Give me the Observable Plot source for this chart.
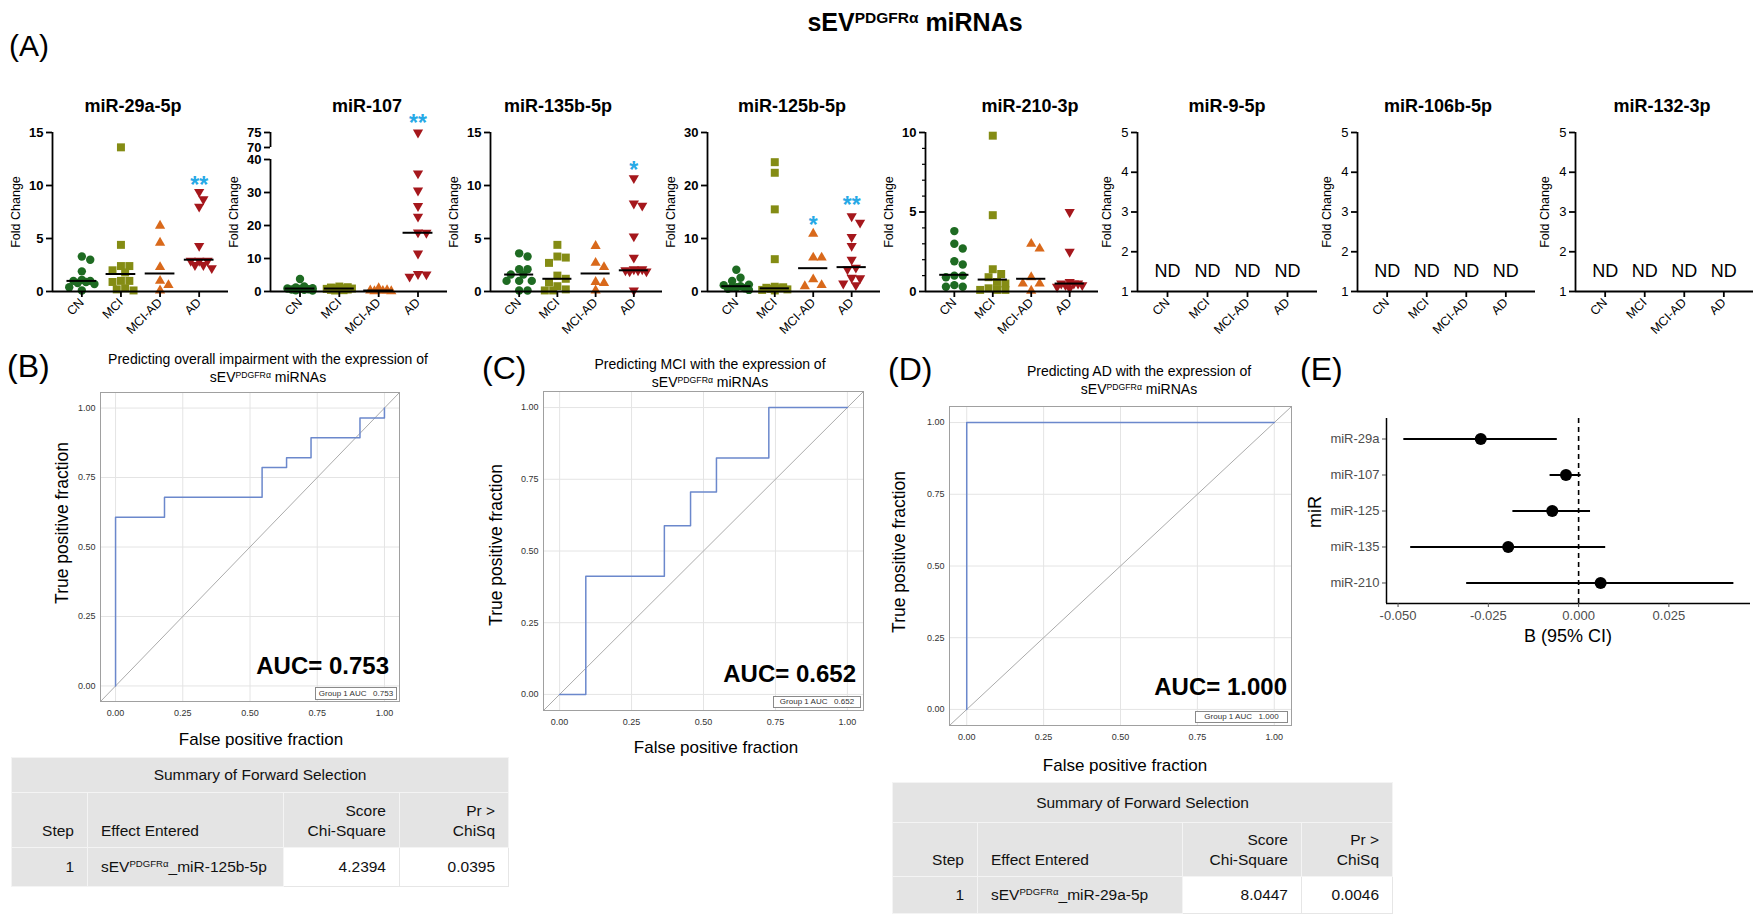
<!DOCTYPE html>
<html><head><meta charset="utf-8">
<script src="https://cdn.jsdelivr.net/npm/d3@7"></script>
<script src="https://cdn.jsdelivr.net/npm/@observablehq/plot@0.6"></script>
<style>
body{margin:0;background:#fff;font-family:"Liberation Sans",Arial,Helvetica,sans-serif;}
#root{position:relative;width:1759px;height:921px;overflow:hidden;background:#fff;}
.t{position:absolute;white-space:nowrap;line-height:1;color:#000;}
.box{position:absolute;}
sup{font-size:0.62em;vertical-align:0.5em;line-height:0;}
.legbox{position:absolute;border:1px solid #8a8a8a;font-size:8px;color:#333;line-height:1;display:flex;align-items:center;justify-content:center;white-space:pre;background:#fff;}
table.sas{position:absolute;border-collapse:collapse;table-layout:fixed;font-size:15.5px;color:#111;}
table.sas td{background:#e4e4e4;border:1px solid #f4f4f4;padding:0 13px;line-height:20px;text-align:right;vertical-align:bottom;overflow:hidden;white-space:nowrap;}
table.sas td.hd{text-align:center;vertical-align:middle;}
table.sas td.left{text-align:left;}
table.sas tr.r2 td{padding-bottom:6px;}
table.sas tr.r3 td{vertical-align:middle;}
table.sas tr.r3 td.w{background:#fff;border:1px solid #e6e6e6;}
</style></head>
<body><div id="root"></div>
<script>
// ---------------- DATA ----------------
const groups = ["CN", "MCI", "MCI-AD", "AD"];
const groupColors = ["#1e6b22", "#848c14", "#d9691b", "#a5171c"];
const starColor = "#27a9e6";

// Fold change per group (CN, MCI, MCI-AD, AD)
const fc29a = [
  [3.3, 3.0, 1.9, 1.1, 1.0, 1.0, 0.9, 0.8, 0.7, 0.4, 0.1],
  [13.6, 4.4, 2.4, 2.4, 2.0, 1.8, 1.0, 1.0, 0.9, 0.3, 0.2, 0.1],
  [6.2, 4.6, 2.3, 1.0, 0.6, 0.1],
  [9.4, 8.7, 8.0, 4.3, 2.9, 2.9, 2.9, 2.5, 2.5, 2.2]
];
const fc107 = [
  [3.8, 1.5, 1.2, 1.0, 0.9, 0.8, 0.7, 0.6, 0.5, 0.4, 0.3],
  [1.5, 1.3, 1.2, 1.0, 1.0, 0.9, 0.8, 0.7, 0.6, 0.5, 0.4, 0.3],
  [1.0, 0.4, 0.3, 0.2, 0.1, 0.1],
  [75, 35.8, 30.6, 25.9, 22.7, 17.9, 17.8, 11.5, 5.3, 5.2, 4.5]
];
const fc135b = [
  [3.6, 3.3, 2.1, 2.1, 1.6, 1.6, 1.0, 1.0, 1.0, 0.1, 0.1],
  [4.4, 3.3, 3.2, 2.7, 1.5, 1.2, 0.85, 0.5, 0.2, 0.1, 0.1],
  [4.3, 2.7, 2.3, 0.9, 0.8, 0.1],
  [10.7, 8.3, 8.1, 5.2, 3.2, 2.1, 2.1, 2.0, 2.0, 1.9, 1.9, 0.1]
];
const fc125b = [
  [4.1, 2.6, 2.0, 1.3, 1.2, 1.0, 0.9, 0.8, 0.6, 0.5, 0.3],
  [24.4, 22.4, 15.5, 6.1, 0.9, 0.8, 0.7, 0.6, 0.5, 0.4, 0.3, 0.2],
  [10.9, 6.4, 6.4, 2.3, 1.2, 1.0],
  [14.2, 13.0, 10.3, 8.6, 6.0, 4.5, 4.2, 2.6, 2.5, 1.5, 1.2]
];
const fc210 = [
  [3.8, 3.0, 2.7, 1.9, 1.7, 1.0, 1.0, 0.9, 0.4, 0.3, 0.3],
  [9.8, 4.8, 1.4, 1.1, 0.9, 0.6, 0.5, 0.2, 0.1, 0.1, 0.1],
  [3.0, 2.7, 0.9, 0.5, 0.5, 0.05],
  [5.0, 2.5, 0.6, 0.5, 0.5, 0.5, 0.4, 0.4, 0.3, 0.2]
];
// Median lines (CN, MCI, MCI-AD, AD)
const med29a = [1.0, 1.65, 1.7, 3.0];
const med107 = [0.9, 0.9, 0.3, 17.8];
const med135b = [1.6, 1.2, 1.7, 2.0];
const med125b = [1.0, 0.6, 4.4, 4.6];
const med210 = [1.05, 0.75, 0.8, 0.5];
// Significance stars (group index, height, label)
const stars29a = [{g: 3, y: 10.6, s: "**"}];
const stars107 = [{g: 3, y: 80, s: "**"}];
const stars135b = [{g: 3, y: 12.0, s: "*"}];
const stars125b = [{g: 2, y: 13.5, s: "*"}, {g: 3, y: 17.3, s: "**"}];
// Y ticks
const ticks15 = [0, 5, 10, 15];
const ticks107 = [0, 10, 20, 30, 40, 70, 75];
const ticks30 = [0, 10, 20, 30];
const ticks10 = [0, 5, 10];
const minor10 = [1, 2, 3, 4, 6, 7, 8, 9];
const ticksND = [1, 2, 3, 4, 5];
const ndLabel = "ND";
const ndY = 1.5;

// ROC curves (false positive fraction, true positive fraction)
const rocB_fpr = [0, 0, 0.182, 0.545, 0.636, 0.727, 0.909, 1];
const rocB_tpr = [0, 0.607, 0.679, 0.786, 0.821, 0.893, 0.964, 1];
const rocC_fpr = [0, 0.091, 0.364, 0.455, 0.545, 0.727, 1];
const rocC_tpr = [0, 0.412, 0.588, 0.706, 0.824, 1, 1];
const rocD_fpr = [0, 0, 1];
const rocD_tpr = [0, 1, 1];
const rocTicks = [0, 0.25, 0.5, 0.75, 1];

// Forest plot (E)
const forestNames = ["miR-29a", "miR-107", "miR-125", "miR-135", "miR-210"];
const forestB = [-0.0271, -0.0035, -0.0073, -0.0195, 0.0061];
const forestLo = [-0.0484, -0.0079, -0.0182, -0.0465, -0.0310];
const forestHi = [-0.0059, 0.0007, 0.0033, 0.0075, 0.0430];
const forestTicks = [-0.05, -0.025, 0, 0.025];

// Tables
const tableHead = ["Step", "Effect Entered", "Score<br>Chi-Square", "Pr &gt;<br>ChiSq"];
const tableB_row = ["1", "sEV<sup>PDGFRα</sup>_miR-125b-5p", "4.2394", "0.0395"];
const tableD_row = ["1", "sEV<sup>PDGFRα</sup>_miR-29a-5p", "8.0447", "0.0046"];

// ---------------- HELPERS ----------------
const root = document.getElementById("root");
const FONT = '"Liberation Sans", Arial, Helvetica, sans-serif';
const sev = 'sEV<sup>PDGFRα</sup> miRNAs';

function T(html, x, y, o = {}) {
  const d = document.createElement("div");
  d.className = "t";
  d.innerHTML = html;
  const ax = o.anchor === "start" ? "0" : o.anchor === "end" ? "-100%" : "-50%";
  d.style.left = x + "px";
  d.style.top = y + "px";
  d.style.fontSize = (o.size || 14) + "px";
  if (o.weight) d.style.fontWeight = o.weight;
  if (o.color) d.style.color = o.color;
  if (o.lh) { d.style.lineHeight = o.lh + "px"; d.style.textAlign = "center"; }
  d.style.transform = `translate(${ax},-50%)` + (o.rotate ? ` rotate(${o.rotate}deg)` : "");
  root.appendChild(d);
}
function place(svg, left, top, w, h) {
  const d = document.createElement("div");
  d.className = "box";
  d.style.left = left + "px"; d.style.top = top + "px";
  d.style.width = w + "px"; d.style.height = h + "px";
  d.appendChild(svg);
  root.appendChild(d);
}
const sqrt3 = Math.sqrt(3);
const triDown = {draw(ctx, size) {
  const y = -Math.sqrt(size / (sqrt3 * 3));
  ctx.moveTo(0, -2 * y); ctx.lineTo(sqrt3 * y, y); ctx.lineTo(-sqrt3 * y, y); ctx.closePath();
}};
const symbols = ["circle", "square", "triangle", triDown];
const radii = [4.2, 4.5, 3.8, 3.8];

// compact beeswarm: spread within a limited width, allowing overlap when crowded
function swarm(vals, g, pxX, pxY, diam, maxPx) {
  const placed = [];
  const cands = [0];
  for (let k = 1; k * diam * 0.5 <= maxPx + 0.01; k++) cands.push(k * diam * 0.5, -k * diam * 0.5);
  return vals.slice().sort((a, b) => b - a).map(v => {
    const py = v * pxY;
    let best = 0, bestD = -1;
    for (const c of cands) {
      const dmin = placed.length ? Math.min(...placed.map(p => Math.hypot(p.px - c, p.py - py))) : Infinity;
      if (dmin >= diam) { best = c; bestD = Infinity; break; }
      if (dmin > bestD + 0.5) { bestD = dmin; best = c; }
    }
    placed.push({px: best, py});
    return {x: g + best / pxX, y: v};
  });
}
const brk = v => v <= 40 ? v : 43.64 + (v - 70) * 0.909;
const xDom = [-0.75, 3.75];

const panels = [
  {title: "miR-29a-5p", tx: 133, fc: fc29a, med: med29a, stars: stars29a, ax: 52, right: 228, dom: [0, 15], ticks: ticks15},
  {title: "miR-107", tx: 367, fc: fc107, med: med107, stars: stars107, ax: 270, right: 447, dom: [0, 75], ticks: ticks107, tf: brk, segs: [[0, 40], [70, 75]]},
  {title: "miR-135b-5p", tx: 558, fc: fc135b, med: med135b, stars: stars135b, ax: 490, right: 662, dom: [0, 15], ticks: ticks15},
  {title: "miR-125b-5p", tx: 792, fc: fc125b, med: med125b, stars: stars125b, ax: 707, right: 880, dom: [0, 30], ticks: ticks30},
  {title: "miR-210-3p", tx: 1030, fc: fc210, med: med210, stars: [], ax: 925, right: 1098, dom: [0, 10], ticks: ticks10, minor: minor10},
  {title: "miR-9-5p", tx: 1227, nd: true, ax: 1137, right: 1317, dom: [1, 5], ticks: ticksND},
  {title: "miR-106b-5p", tx: 1438, nd: true, ax: 1357, right: 1535, dom: [1, 5], ticks: ticksND},
  {title: "miR-132-3p", tx: 1662, nd: true, ax: 1575, right: 1753, dom: [1, 5], ticks: ticksND}
];

function scatter(p) {
  const mL = 50, mR = 8, mT = 37, mB = 44, H = 240;
  const W = p.right - p.ax + mL + mR;
  const tf = p.tf || (v => v);
  const yDom = [tf(p.dom[0]), tf(p.dom[1])];
  const pxX = (W - mL - mR) / (xDom[1] - xDom[0]);
  const pxY = (H - mT - mB) / (yDom[1] - yDom[0]);
  const lab = new Map(p.ticks.map(t => [tf(t), String(t)]));
  const segs = p.segs || [p.dom];
  const marks = [];
  if (p.fc) {
    p.fc.forEach((vals, g) => {
      const pts = swarm(vals.map(tf), g, pxX, pxY, 8.4, 12.6);
      marks.push(Plot.dot(pts, {x: "x", y: "y", r: radii[g], fill: groupColors[g], symbol: symbols[g]}));
    });
    marks.push(Plot.ruleY(p.med.map((m, g) => ({g, m})), {y: d => tf(d.m), x1: d => d.g - 0.38, x2: d => d.g + 0.38, stroke: "#000", strokeWidth: 2}));
    marks.push(Plot.text(p.stars, {x: "g", y: d => tf(d.y), text: "s", fill: starColor, fontSize: 23, fontWeight: "bold", dy: 6}));
  }
  if (p.nd) {
    marks.push(Plot.text([0, 1, 2, 3], {x: d => d, y: () => ndY, text: () => ndLabel, fontSize: 18}));
  }
  marks.push(Plot.ruleY([yDom[0]], {stroke: "#000", strokeWidth: 1.8}));
  marks.push(Plot.ruleX(segs, {x: () => xDom[0], y1: d => tf(d[0]), y2: d => tf(d[1]), stroke: "#000", strokeWidth: 1.8}));
  if (p.minor) marks.push(Plot.axisY({ticks: p.minor, tickFormat: () => "", tickSize: 3, strokeWidth: 1.2, label: null}));
  marks.push(Plot.axisY({ticks: p.ticks.map(tf), tickFormat: d => lab.get(d), tickSize: 6, tickPadding: 3, fontSize: 13, fontWeight: p.nd ? "normal" : "bold", strokeWidth: 1.8, label: null}));
  marks.push(Plot.axisX({ticks: [0, 1, 2, 3], tickFormat: i => groups[i], tickRotate: -45, tickSize: 6, tickPadding: 3, fontSize: 12.5, strokeWidth: 1.8, label: null}));
  const svg = Plot.plot({
    width: W, height: H, marginLeft: mL, marginRight: mR, marginTop: mT, marginBottom: mB,
    x: {domain: xDom, label: null}, y: {domain: yDom, label: null},
    style: {fontFamily: FONT, overflow: "visible", background: "transparent", color: "#000"},
    marks
  });
  place(svg, p.ax - mL, 95, W, H);
  T(p.title, p.tx, 106, {size: 18, weight: "bold"});
  T("Fold Change", p.ax - (p.nd ? 30 : 36), 212, {size: 12.5, rotate: -90});
}
panels.forEach(scatter);

// ---------------- ROC ----------------
function roc(c) {
  const dom = [-0.056, 1.056];
  const pts = c.fpr.map((f, i) => ({f, t: c.tpr[i]}));
  const fmt = d => d.toFixed(2);
  const svg = Plot.plot({
    width: c.w, height: c.h, marginLeft: c.mL, marginRight: c.mR, marginTop: c.mT, marginBottom: c.mB,
    x: {domain: dom, label: null}, y: {domain: dom, label: null},
    style: {fontFamily: FONT, overflow: "visible", background: "transparent"},
    marks: [
      Plot.gridX({ticks: rocTicks, stroke: "#e4e4e4", strokeOpacity: 1}),
      Plot.gridY({ticks: rocTicks, stroke: "#e4e4e4", strokeOpacity: 1}),
      Plot.line(dom.map(v => ({v})), {x: "v", y: "v", stroke: "#ababab", strokeWidth: 1}),
      Plot.line(pts, {x: "f", y: "t", curve: "step-after", stroke: "#6b88cc", strokeWidth: 1.5}),
      Plot.frame({stroke: "#a0a0a0"}),
      Plot.axisX({ticks: rocTicks, tickFormat: fmt, tickSize: 0, tickPadding: 8, fontSize: 9, color: "#333", label: null}),
      Plot.axisY({ticks: rocTicks, tickFormat: fmt, tickSize: 0, tickPadding: 5, fontSize: 9, color: "#333", label: null})
    ]
  });
  place(svg, c.left, c.top, c.w, c.h);
}
roc({fpr: rocB_fpr, tpr: rocB_tpr, left: 40, top: 385, w: 365, h: 335, mL: 60, mR: 6, mT: 7, mB: 19});
roc({fpr: rocC_fpr, tpr: rocC_tpr, left: 493, top: 384, w: 376, h: 346, mL: 50, mR: 6, mT: 7, mB: 20});
roc({fpr: rocD_fpr, tpr: rocD_tpr, left: 899, top: 399, w: 398, h: 346, mL: 50, mR: 6, mT: 7, mB: 20});

// ---------------- FOREST (E) ----------------
{
  const rows = forestNames.map((n, i) => ({i, b: forestB[i], lo: forestLo[i], hi: forestHi[i]}));
  const xd = [-0.0532, 0.0476], yd = [-0.57, 4.57];
  const svg = Plot.plot({
    width: 469, height: 255, marginLeft: 96, marginRight: 9, marginTop: 18, marginBottom: 52,
    x: {domain: xd, label: null}, y: {domain: yd, reverse: true, label: null},
    style: {fontFamily: FONT, overflow: "visible", background: "transparent"},
    marks: [
      Plot.ruleX([0], {stroke: "#000", strokeWidth: 1.6, strokeDasharray: "5,4"}),
      Plot.ruleY(rows, {y: "i", x1: "lo", x2: "hi", stroke: "#000", strokeWidth: 2}),
      Plot.dot(rows, {x: "b", y: "i", r: 6, fill: "#000"}),
      Plot.ruleX([xd[0]], {stroke: "#000", strokeWidth: 1.5}),
      Plot.ruleY([yd[1]], {stroke: "#000", strokeWidth: 1.5}),
      Plot.axisX({ticks: forestTicks, tickFormat: d => d.toFixed(3), tickSize: 4, tickPadding: 3, fontSize: 13, color: "#4d4d4d", label: null}),
      Plot.axisY({ticks: [0, 1, 2, 3, 4], tickFormat: i => forestNames[i], tickSize: 4, tickPadding: 3, fontSize: 13, color: "#4d4d4d", label: null})
    ]
  });
  place(svg, 1290, 400, 469, 255);
}

// ---------------- TEXT ----------------
T(sev, 915, 22, {size: 25, weight: "bold"});
T("(A)", 9, 46, {size: 30, anchor: "start"});
T("(B)", 7, 366, {size: 32, anchor: "start"});
T("(C)", 482, 368, {size: 32, anchor: "start"});
T("(D)", 888, 369, {size: 32, anchor: "start"});
T("(E)", 1300, 369, {size: 32, anchor: "start"});

T("Predicting overall impairment with the expression of<br>" + sev, 268, 368, {size: 14, lh: 18});
T("Predicting MCI with the expression of<br>" + sev, 710, 373, {size: 14, lh: 18});
T("Predicting AD with the expression of<br>" + sev, 1139, 380, {size: 14, lh: 18});

T("True positive fraction", 63, 523, {size: 17.5, rotate: -90});
T("True positive fraction", 497, 545, {size: 17.5, rotate: -90});
T("True positive fraction", 900, 552, {size: 17.5, rotate: -90});
T("False positive fraction", 261, 739, {size: 17});
T("False positive fraction", 716, 747, {size: 17});
T("False positive fraction", 1125, 765, {size: 17});

T("AUC= 0.753", 389, 666, {size: 24, weight: "bold", anchor: "end"});
T("AUC= 0.652", 856, 674, {size: 24, weight: "bold", anchor: "end"});
T("AUC= 1.000", 1287, 687, {size: 24, weight: "bold", anchor: "end"});

function legbox(txt, x0, y0, x1, y1) {
  const d = document.createElement("div");
  d.className = "legbox";
  d.textContent = txt;
  d.style.left = x0 + "px"; d.style.top = y0 + "px";
  d.style.width = (x1 - x0) + "px"; d.style.height = (y1 - y0) + "px";
  root.appendChild(d);
}
legbox("Group 1 AUC   0.753", 315, 687, 395, 698);
legbox("Group 1 AUC   0.652", 773, 696, 859, 706);
legbox("Group 1 AUC   1.000", 1195, 711, 1286, 721);

T("miR", 1315, 512, {size: 18, rotate: -90});
T("B (95% CI)", 1568, 636, {size: 18});

// ---------------- TABLES ----------------
function table(row, left, top, widths, heights) {
  const t = document.createElement("table");
  t.className = "sas";
  t.style.left = left + "px"; t.style.top = top + "px";
  t.style.width = widths.reduce((a, b) => a + b, 0) + "px";
  let h = `<colgroup>${widths.map(w => `<col style="width:${w}px">`).join("")}</colgroup>`;
  h += `<tr style="height:${heights[0]}px"><td class="hd" colspan="4">Summary of Forward Selection</td></tr>`;
  h += `<tr class="r2" style="height:${heights[1]}px">${tableHead.map((c, i) => `<td class="${i === 1 ? "left" : ""}">${c}</td>`).join("")}</tr>`;
  h += `<tr class="r3" style="height:${heights[2]}px">${row.map((c, i) => `<td class="${i === 1 ? "left" : ""} ${i >= 2 ? "w" : ""}">${c}</td>`).join("")}</tr>`;
  t.innerHTML = h;
  root.appendChild(t);
}
table(tableB_row, 11, 757, [76, 196, 116, 109], [35, 55, 39]);
table(tableD_row, 892, 782, [85, 205, 119, 91], [40, 54, 37]);
</script>
</body></html>
